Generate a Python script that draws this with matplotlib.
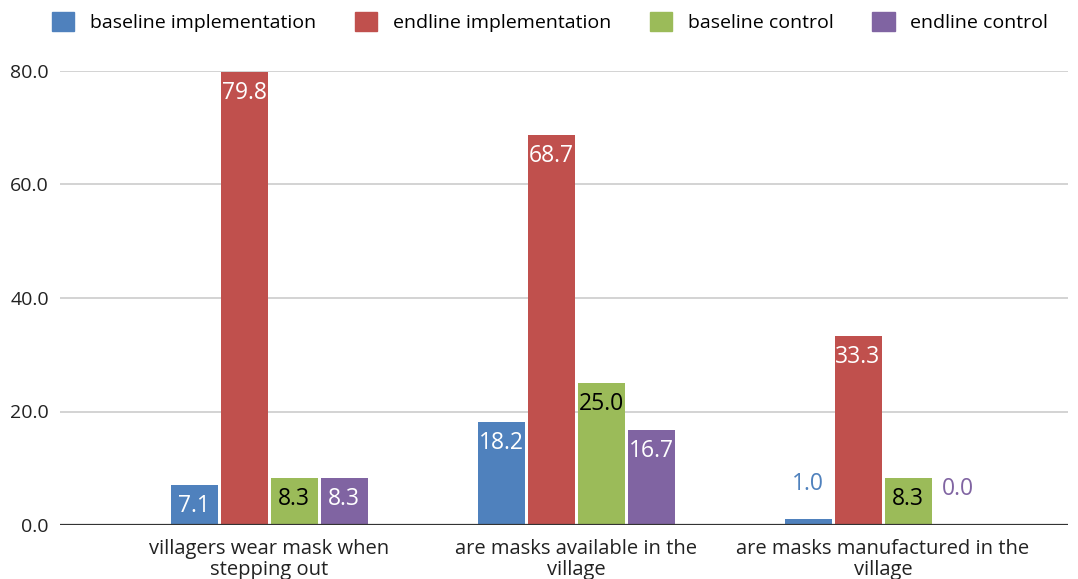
import matplotlib
matplotlib.use("Agg")
import matplotlib.pyplot as plt
import numpy as np
from matplotlib.patches import Patch

plt.rcParams['font.family'] = ['Open Sans', 'DejaVu Sans']

categories = [
    "villagers wear mask when\nstepping out",
    "are masks available in the\nvillage",
    "are masks manufactured in the\nvillage",
]
series_names = ["baseline implementation", "endline implementation",
                "baseline control", "endline control"]
baseline_impl = [7.1, 18.2, 1.0]
endline_impl = [79.8, 68.7, 33.3]
baseline_ctrl = [8.3, 25.0, 8.3]
endline_ctrl = [8.3, 16.7, 0.0]
yticks = [0, 20, 40, 60, 80]

series = [baseline_impl, endline_impl, baseline_ctrl, endline_ctrl]
colors = ["#4F81BD", "#C0504D", "#9BBB59", "#8064A2"]
inside_text = ["white", "white", "black", "white"]

fig = plt.figure(figsize=(10.78, 5.79), dpi=100)
ax = fig.add_axes([60 / 1078, 1 - 525 / 579, 1008 / 1078, 454 / 579])

x = np.arange(len(categories))
step = 50 / 307
width = 47 / 307
offsets = (np.arange(4) - 1.5) * step

for i, (vals, col) in enumerate(zip(series, colors)):
    bars = ax.bar(x + offsets[i], vals, width=width, color=col,
                  label=series_names[i], zorder=3)
    for b, v in zip(bars, vals):
        cx = b.get_x() + b.get_width() / 2
        if v >= 5:
            ax.annotate(f"{v:.1f}", (cx, v), xytext=(0, -6.5),
                        textcoords="offset points", ha="center", va="top",
                        color=inside_text[i], fontsize=16.5, zorder=4)
        else:
            ax.annotate(f"{v:.1f}", (cx, v), xytext=(0, 17),
                        textcoords="offset points", ha="center", va="bottom",
                        color=col, fontsize=16.5, zorder=4)

ax.set_xlim(-209 / 307, 2 + 185 / 307)
ax.set_ylim(0, 80)
ax.set_yticks(yticks)
ax.set_yticklabels([f"{t:.1f}" for t in yticks], fontsize=14, color="#222222")
ax.set_xticks(x)
ax.set_xticklabels(categories, fontsize=14.5, color="#222222", linespacing=1.05)
ax.tick_params(axis="both", length=0)
ax.tick_params(axis="x", pad=10)
ax.tick_params(axis="y", pad=8)
for s in ax.spines.values():
    s.set_visible(False)
ax.yaxis.grid(True, color="#cccccc", linewidth=1.2, zorder=0)
ax.axhline(0, color="#333333", linewidth=1.6, zorder=5)

handles = [Patch(facecolor=c, edgecolor=c) for c in colors]
fig.legend(handles, series_names, loc="center", bbox_to_anchor=(550 / 1078, 1 - 22 / 579),
           ncol=4, frameon=False, fontsize=14, handlelength=1.15, handleheight=1.15,
           handletextpad=0.8, columnspacing=2.0)

fig.savefig("out.png", dpi=100)
